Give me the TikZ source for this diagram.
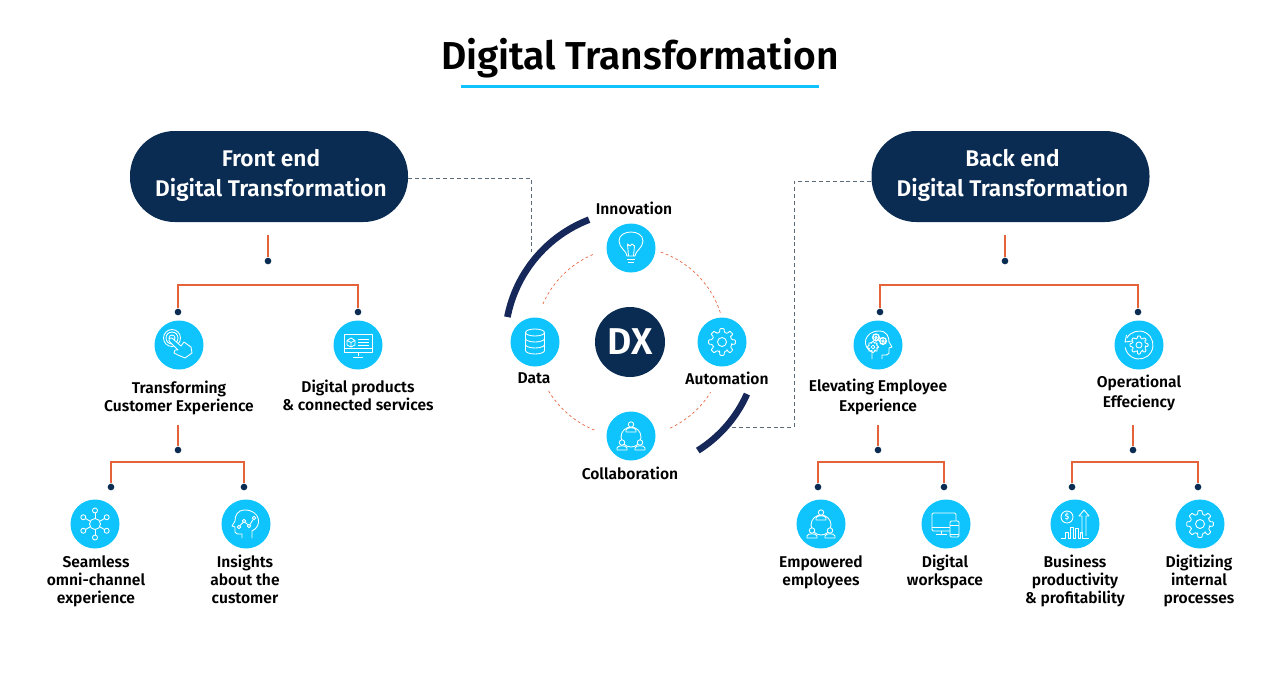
\documentclass[tikz,border=0pt]{standalone}
\usepackage{fontspec}
\setmainfont{Fira Sans}[BoldFont={Fira Sans SemiBold}]
\usetikzlibrary{arrows.meta}
\definecolor{dxnavy}{HTML}{0A2C52}
\definecolor{dxcyan}{HTML}{0FC4FC}
\definecolor{dxorange}{HTML}{E5633A}
\definecolor{dxarc}{HTML}{16275A}
\definecolor{dxgrey}{HTML}{5B6B7A}
\tikzset{
	iconline/.style={draw=white,line width=0.65pt,line join=round},
	pics/gear/.style={code={
		\draw[iconline,rounded corners=0.6pt] (-14:10) \foreach \a in {0,45,...,315}
			{-- (\a-14:10) -- (\a-9:13.5) -- (\a+9:13.5) -- (\a+14:10) -- (\a+31:10)} -- cycle;
		\draw[iconline] (0,0) circle (4.5);
	}},
	pics/head/.style={code={
		\draw[iconline] (-6,-14) -- (-6,-7) .. controls (-17,-2) and (-14,14) .. (1,14)
			.. controls (9,14) and (11,8) .. (11,3) -- (14,-2) -- (11,-3) -- (11,-8)
			.. controls (11,-10) and (9,-10) .. (4,-10) -- (4,-14);
	}},
	pics/person/.style={code={
		\draw[iconline,fill=dxcyan] (-5,-5) -- (-5,-3) .. controls (-5,0) and (5,0) .. (5,-3) -- (5,-5) -- cycle;
		\draw[iconline,fill=dxcyan] (0,2.5) circle (2.7);
	}},
	pics/team/.style={code={
		\draw[iconline] (0,-1) circle (10);
		\pic at (0,9) {person};
		\pic at (-9,-9) {person};
		\pic at (9,-9) {person};
	}},
	pics/bulb/.style={code={
		\draw[iconline] (-4,-8) .. controls (-4,-3) and (-12,0) .. (-12,7) .. controls (-12,19) and (12,19) .. (12,7)
			.. controls (12,0) and (4,-3) .. (4,-8) -- cycle;
		\draw[iconline] (-2.5,-8) -- (-3.5,4) -- (-1,2) -- (1,4) -- (3.5,2) -- (2.5,-8);
		\draw[iconline] (-4,-11) -- (4,-11) (-3,-14) -- (3,-14);
	}},
	pics/dbase/.style={code={
		\draw[iconline] (0,9.5) ellipse (9.5 and 3.5);
		\draw[iconline] (-9.5,9.5) -- (-9.5,-8.5) arc (180:360:9.5 and 3.5) -- (9.5,9.5);
		\draw[iconline] (-9.5,3.5) arc (180:360:9.5 and 3.5) (-9.5,-2.5) arc (180:360:9.5 and 3.5);
	}},
	pics/touch/.style={code={
		\draw[iconline] (-7,7) circle (3) (-7,7) circle (6) (-7,7) circle (8.5);
		\draw[iconline,fill=dxcyan] (-7,7) -- (2,-1) -- (5,3) -- (12,-2) -- (13,-8) -- (6,-13) -- (-1,-10) -- (-5,-8)
			-- (-4,-5) -- (-1,-5) -- (-10,4) .. controls (-11,6) and (-9,8) .. (-7,7);
	}},
	pics/screen/.style={code={
		\draw[iconline] (-14,-7) rectangle (14,11);
		\draw[iconline] (-14,-3.5) -- (14,-3.5) (0,-7) -- (0,-11) (-5,-12) -- (5,-12);
		\draw[iconline] (-7,7) -- (-3,4.5) -- (-3,0) -- (-7,-2) -- (-11,0) -- (-11,4.5) -- cycle (-7,2.5) -- (-7,-2) (-7,2.5) -- (-11,4.5) (-7,2.5) -- (-3,4.5);
		\draw[iconline] (0,6) -- (11,6) (0,3) -- (11,3) (0,0) -- (11,0);
	}},
	pics/hub/.style={code={
		\draw[iconline] (0,0) circle (5.5);
		\foreach \a in {30,90,...,330}{
			\draw[iconline] (\a:5.5) -- (\a:11);
			\draw[iconline] (\a:13.5) circle (2.5);
		}
	}},
	pics/graph/.style={code={
		\draw[iconline] (-7,-3) circle (1.8) (-2,3) circle (1.8) (3,-2) circle (1.8) (8,6) circle (1.8);
		\draw[iconline] (-6,-1.5) -- (-3,1.5) (-0.8,1.6) -- (1.8,-0.6) (4,-0.5) -- (7,4.4);
	}},
	pics/headgears/.style={code={
		\pic[scale=0.42] at (-5,-2) {gear};
		\pic[scale=0.28] at (-2,7.5) {gear};
		\pic[scale=0.28] at (5,4) {gear};
	}},
	pics/cycle/.style={code={
		\pic[scale=0.68] {gear};
		\draw[iconline] (150:14) arc (150:-170:14);
		\draw[iconline] (-12.5,10) -- (-14,3) -- (-7,4);
	}},
	pics/desk/.style={code={
		\draw[iconline,rounded corners=1pt] (-14,-7) rectangle (10,11);
		\draw[iconline] (-14,-3) -- (4,-3) (-5,-7) -- (-5,-10) (-10,-10) -- (1,-10);
		\draw[iconline,fill=dxcyan,rounded corners=1pt] (4,-13) rectangle (13,3);
		\draw[iconline] (4,-1) -- (13,-1) (4,-10) -- (13,-10);
	}},
	pics/chart/.style={code={
		\draw[iconline] (-8,7) circle (6);
		\node[font=\bfseries\fontsize{6}{6}\selectfont,text=white,inner sep=0pt] (dollar) at (-8,7) {\$};
		\draw[iconline] (-14,-14) -- (-10,-14) -- (-10,-8) -- (-7,-8) -- (-7,-14) -- (-5,-14) -- (-5,-3) -- (-2,-3) -- (-2,-14) -- (0,-14) -- (0,-4) -- (3,-4) -- (3,-14) -- (5,-14) -- (5,-8) -- (7,-8) -- (7,-14) -- (14,-14);
		\draw[iconline] (7,-10) -- (7,8) -- (4,8) -- (9,14) -- (14,8) -- (11,8) -- (11,-12);
	}},
}
\begin{document}
\begin{tikzpicture}[
		x=0.75pt,y=0.75pt,
		pill/.style={rectangle,rounded corners=33.5pt,fill=dxnavy,minimum width=208.5pt,minimum height=68.25pt,inner sep=0pt},
		pilltext/.style={text=white,inner sep=0pt,align=center,font=\bfseries\fontsize{17}{22.5}\selectfont},
		badge/.style={circle,fill=dxcyan,inner sep=0pt,minimum size=36.75pt},
		dot/.style={circle,fill=dxnavy,inner sep=0pt,minimum size=5pt},
		branch/.style={draw=dxorange,line width=1.8pt},
		ring/.style={draw=dxorange,line width=0.5pt,dash pattern=on 2pt off 2pt},
		band/.style={draw=dxarc,line width=5pt},
		link/.style={draw=dxgrey,line width=0.7pt,dash pattern=on 3pt off 2.2pt},
		caption/.style={align=center,inner sep=0pt,font=\bfseries\fontsize{11.7}{13.5}\selectfont},
		caption2/.style={caption,font=\bfseries\fontsize{11.7}{15}\selectfont}
		]
		\useasboundingbox (0,0) rectangle (1280,-686);

		% title
		\node[inner sep=0pt,font=\bfseries\fontsize{29.2}{33}\selectfont] (title) at (640,-58) {Digital Transformation};
		\coordinate (ruleL) at (461,-86);
		\coordinate (ruleR) at (819,-86);
		\draw[draw=dxcyan,line width=2.25pt] (ruleL) -- (ruleR);

		% centre
		\node[circle,fill=dxnavy,text=white,inner sep=0pt,minimum size=52.5pt,font=\bfseries\fontsize{28}{28}\selectfont] (dx) at (630,-342) {DX};
		\node[badge] (inno) at (631,-248) {};
		\node[badge] (data) at (535,-342) {};
		\node[badge] (auto) at (722,-342) {};
		\node[badge] (coll) at (631,-436) {};
		\pic at (inno) {bulb};
		\pic at (data) {dbase};
		\pic at (auto) {gear};
		\pic at (coll) {team};
		\node[caption] (innoT) at (634,-208) {Innovation};
		\node[caption] (dataT) at (534,-378) {Data};
		\node[caption] (autoT) at (727,-378) {Automation};
		\node[caption] (collT) at (630,-473) {Collaboration};
		\draw[ring] (dx) ++(113:95) arc (113:157:95);
		\draw[ring] (dx) ++(18:95) arc (18:72:95);
		\draw[ring] (dx) ++(-65:95) arc (-65:-32:95);
		\draw[ring] (dx) ++(211:95) arc (211:248:95);

		% dashed links
		\node[pill] (front) at (269,-176.5) {};
		\node[pill] (back) at (1010.5,-176.5) {};
		\node[pilltext] (frontT) at (271,-175) {Front end\\Digital Transformation};
		\node[pilltext] (backT) at (1012.5,-175) {Back end\\Digital Transformation};
		\coordinate (frontEnd) at (531,-252);
		\coordinate (backEnd) at (728,-427);
		\draw[link] (front.east |- 0,-178) -| (frontEnd);
		\draw[link] (back.west |- 0,-181) -| (794,-427) -- (backEnd);
		\draw[band] (636,-342) ++(111:131) arc (111:169:131);
		\draw[band] (dx) ++(-24:128) arc (-24:-58:128);

		% left tree
		\node[dot] (fd0) at (268,-261) {};
		\node[dot] (fd1) at (178,-312) {};
		\node[dot] (fd2) at (358,-312) {};
		\coordinate (fTop) at (268,-235);
		\coordinate (fBar) at (268,-285);
		\draw[branch] (fTop) -- (fd0.north);
		\draw[branch] (fd1.north) |- (fBar) -| (fd2.north);
		\node[badge] (tce) at (179,-345) {};
		\node[badge] (dps) at (358,-345) {};
		\pic at (tce) {touch};
		\pic at (dps) {screen};
		\node[caption] (tceT) at (179,-398) {Transforming\\Customer Experience};
		\node[caption] (dpsT) at (358,-395) {Digital products\\\& connected services};
		\node[dot] (fd3) at (178,-450) {};
		\node[dot] (fd4) at (111,-487) {};
		\node[dot] (fd5) at (244,-487) {};
		\coordinate (gTop) at (178,-425);
		\coordinate (gBar) at (178,-462);
		\draw[branch] (gTop) -- (fd3.north);
		\draw[branch] (fd4.north) |- (gBar) -| (fd5.north);
		\node[badge] (sem) at (95,-524) {};
		\node[badge] (ins) at (246,-524) {};
		\pic at (sem) {hub};
		\pic[xscale=-1] at (ins) {head};
		\pic at (ins) {graph};
		\node[caption] (semT) at (96,-581) {Seamless\\omni-channel\\experience};
		\node[caption] (insT) at (245,-579) {Insights\\about the\\customer};

		% right tree
		\node[dot] (bd0) at (1005,-261) {};
		\node[dot] (bd1) at (880,-312) {};
		\node[dot] (bd2) at (1138,-312) {};
		\coordinate (bTop) at (1005,-235);
		\coordinate (bBar) at (1005,-285);
		\draw[branch] (bTop) -- (bd0.north);
		\draw[branch] (bd1.north) |- (bBar) -| (bd2.north);
		\node[badge] (eee) at (878,-345) {};
		\node[badge] (ope) at (1139,-345) {};
		\pic at (eee) {head};
		\pic at (eee) {headgears};
		\pic at (ope) {cycle};
		\node[caption2] (eeeT) at (878,-397) {Elevating Employee\\Experience};
		\node[caption2] (opeT) at (1139,-393) {Operational\\Effeciency};
		\node[dot] (bd3) at (878,-450) {};
		\node[dot] (bd4) at (818,-487) {};
		\node[dot] (bd5) at (944,-487) {};
		\coordinate (cTop) at (878,-425);
		\coordinate (cBar) at (878,-462);
		\draw[branch] (cTop) -- (bd3.north);
		\draw[branch] (bd4.north) |- (cBar) -| (bd5.north);
		\node[dot] (bd6) at (1133,-450) {};
		\node[dot] (bd7) at (1072,-487) {};
		\node[dot] (bd8) at (1198,-487) {};
		\coordinate (dTop) at (1133,-425);
		\coordinate (dBar) at (1133,-462);
		\draw[branch] (dTop) -- (bd6.north);
		\draw[branch] (bd7.north) |- (dBar) -| (bd8.north);
		\node[badge] (emp) at (821,-524) {};
		\node[badge] (dig) at (946,-524) {};
		\node[badge] (biz) at (1075,-524) {};
		\node[badge] (pro) at (1200,-524) {};
		\pic at (emp) {team};
		\pic at (dig) {desk};
		\pic at (biz) {chart};
		\pic at (pro) {gear};
		\node[caption] (empT) at (821,-572.5) {Empowered\\employees};
		\node[caption] (digT) at (945,-572) {Digital\\workspace};
		\node[caption] (bizT) at (1075,-581) {Business\\productivity\\\& profitability};
		\node[caption] (proT) at (1199,-581) {Digitizing\\internal\\processes};
	\end{tikzpicture}
\end{document}
